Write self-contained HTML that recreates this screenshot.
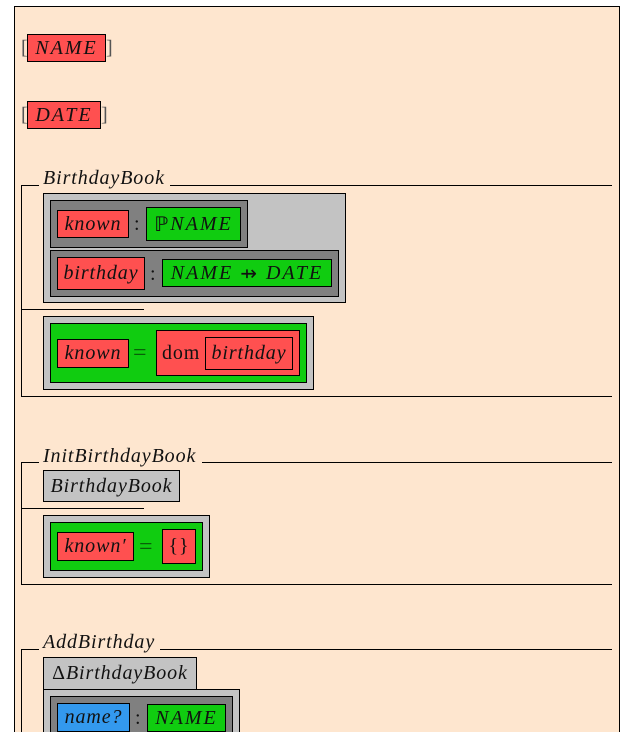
<!DOCTYPE html>
<html style="height:732px;overflow:hidden"><head><meta charset="utf-8"><style>
body{margin:0;width:631px;height:732px;background:#fff;overflow:hidden;position:relative;font-family:"Liberation Serif",serif;font-size:20px;}
.a{position:absolute;box-sizing:border-box;}
.b{border:1px solid #000;}
.r{background:#ff5050;}.g{background:#10cc10;}.lg{background:#c3c3c3;}.dg{background:#808080;}.bl{background:#3399ee;}
.t{position:absolute;font-style:italic;white-space:nowrap;line-height:1;color:#111;letter-spacing:0.9px;}
.c{display:flex;align-items:center;justify-content:center;font-style:italic;white-space:nowrap;color:#111;letter-spacing:0.9px;}
.u{letter-spacing:2px;}
.h{position:absolute;height:1px;background:#000;}
.v{position:absolute;width:1px;background:#000;}
</style></head><body>
<div class="a" style="left:14px;top:6px;width:606px;height:740px;background:#fee6cf;border:1px solid #000;"></div>

<div class="t" style="left:21px;top:38px;font-style:normal;color:#555">[</div>
<div class="a b r c u" style="left:27px;top:34px;width:79px;height:28px;">NAME</div>
<div class="t" style="left:106px;top:38px;font-style:normal;color:#555">]</div>
<div class="t" style="left:21px;top:105px;font-style:normal;color:#555">[</div>
<div class="a b r c u" style="left:27px;top:101px;width:74px;height:28px;">DATE</div>
<div class="t" style="left:101px;top:105px;font-style:normal;color:#555">]</div>

<!-- BirthdayBook -->
<div class="t" style="left:43px;top:168px;">BirthdayBook</div>
<div class="h" style="left:21px;top:185px;width:18px"></div>
<div class="h" style="left:170px;top:185px;width:442px"></div>
<div class="v" style="left:21px;top:185px;height:211px"></div>
<div class="h" style="left:21px;top:396px;width:591px"></div>
<div class="h" style="left:21px;top:309px;width:123px"></div>
<div class="a b lg" style="left:43px;top:193px;width:303px;height:110px;"></div>
<div class="a b dg" style="left:50px;top:200px;width:198px;height:48px;"></div>
<div class="a b r c" style="left:57px;top:210px;width:72px;height:28px;">known</div>
<div class="t" style="left:134px;top:214px;font-style:normal">:</div>
<div class="a b g c u" style="left:146px;top:207px;width:95px;height:34px;"><span style="font-style:normal">ℙ</span>NAME</div>
<div class="a b dg" style="left:50px;top:250px;width:289px;height:47px;"></div>
<div class="a b r c" style="left:57px;top:257px;width:88px;height:33px;">birthday</div>
<div class="t" style="left:150px;top:264px;font-style:normal">:</div>
<div class="a b g c u" style="left:162px;top:259px;width:170px;height:28px;">NAME<span style="font-style:normal">&nbsp;⇸&nbsp;</span>DATE</div>
<div class="a b lg" style="left:43px;top:316px;width:271px;height:74px;"></div>
<div class="a b g" style="left:50px;top:323px;width:257px;height:60px;"></div>
<div class="a b r c" style="left:57px;top:339px;width:72px;height:29px;">known</div>
<div class="t" style="left:133px;top:341px;font-style:normal;color:#086008;font-size:24px">=</div>
<div class="a b r" style="left:156px;top:330px;width:144px;height:46px;"></div>
<div class="t" style="left:162px;top:343px;font-style:normal">dom</div>
<div class="a b r c" style="left:205px;top:337px;width:88px;height:33px;">birthday</div>

<!-- Init -->
<div class="t" style="left:43px;top:446px;">InitBirthdayBook</div>
<div class="h" style="left:21px;top:462px;width:18px"></div>
<div class="h" style="left:202px;top:462px;width:410px"></div>
<div class="v" style="left:21px;top:462px;height:122px"></div>
<div class="h" style="left:21px;top:584px;width:591px"></div>
<div class="h" style="left:21px;top:508px;width:123px"></div>
<div class="a b lg c" style="left:43px;top:470px;width:137px;height:32px;">BirthdayBook</div>
<div class="a b lg" style="left:43px;top:515px;width:167px;height:63px;"></div>
<div class="a b g" style="left:50px;top:522px;width:153px;height:49px;"></div>
<div class="a b r c" style="left:57px;top:532px;width:77px;height:29px;">known′</div>
<div class="t" style="left:139px;top:535px;font-style:normal;color:#086008;font-size:24px">=</div>
<div class="a b r c" style="left:162px;top:529px;width:34px;height:35px;font-style:normal">{}</div>

<!-- AddBirthday -->
<div class="t" style="left:43px;top:632px;">AddBirthday</div>
<div class="h" style="left:21px;top:649px;width:18px"></div>
<div class="h" style="left:160px;top:649px;width:452px"></div>
<div class="v" style="left:21px;top:649px;height:90px"></div>
<div class="a b lg c" style="left:43px;top:657px;width:154px;height:33px;"><span style="font-style:normal">Δ</span>BirthdayBook</div>
<div class="a b lg" style="left:43px;top:689px;width:197px;height:60px;"></div>
<div class="a b dg" style="left:50px;top:696px;width:183px;height:50px;"></div>
<div class="a b bl c" style="left:57px;top:703px;width:73px;height:29px;">name?</div>
<div class="t" style="left:135px;top:708px;font-style:normal">:</div>
<div class="a b g c u" style="left:147px;top:704px;width:79px;height:28px;">NAME</div>
</body></html>
